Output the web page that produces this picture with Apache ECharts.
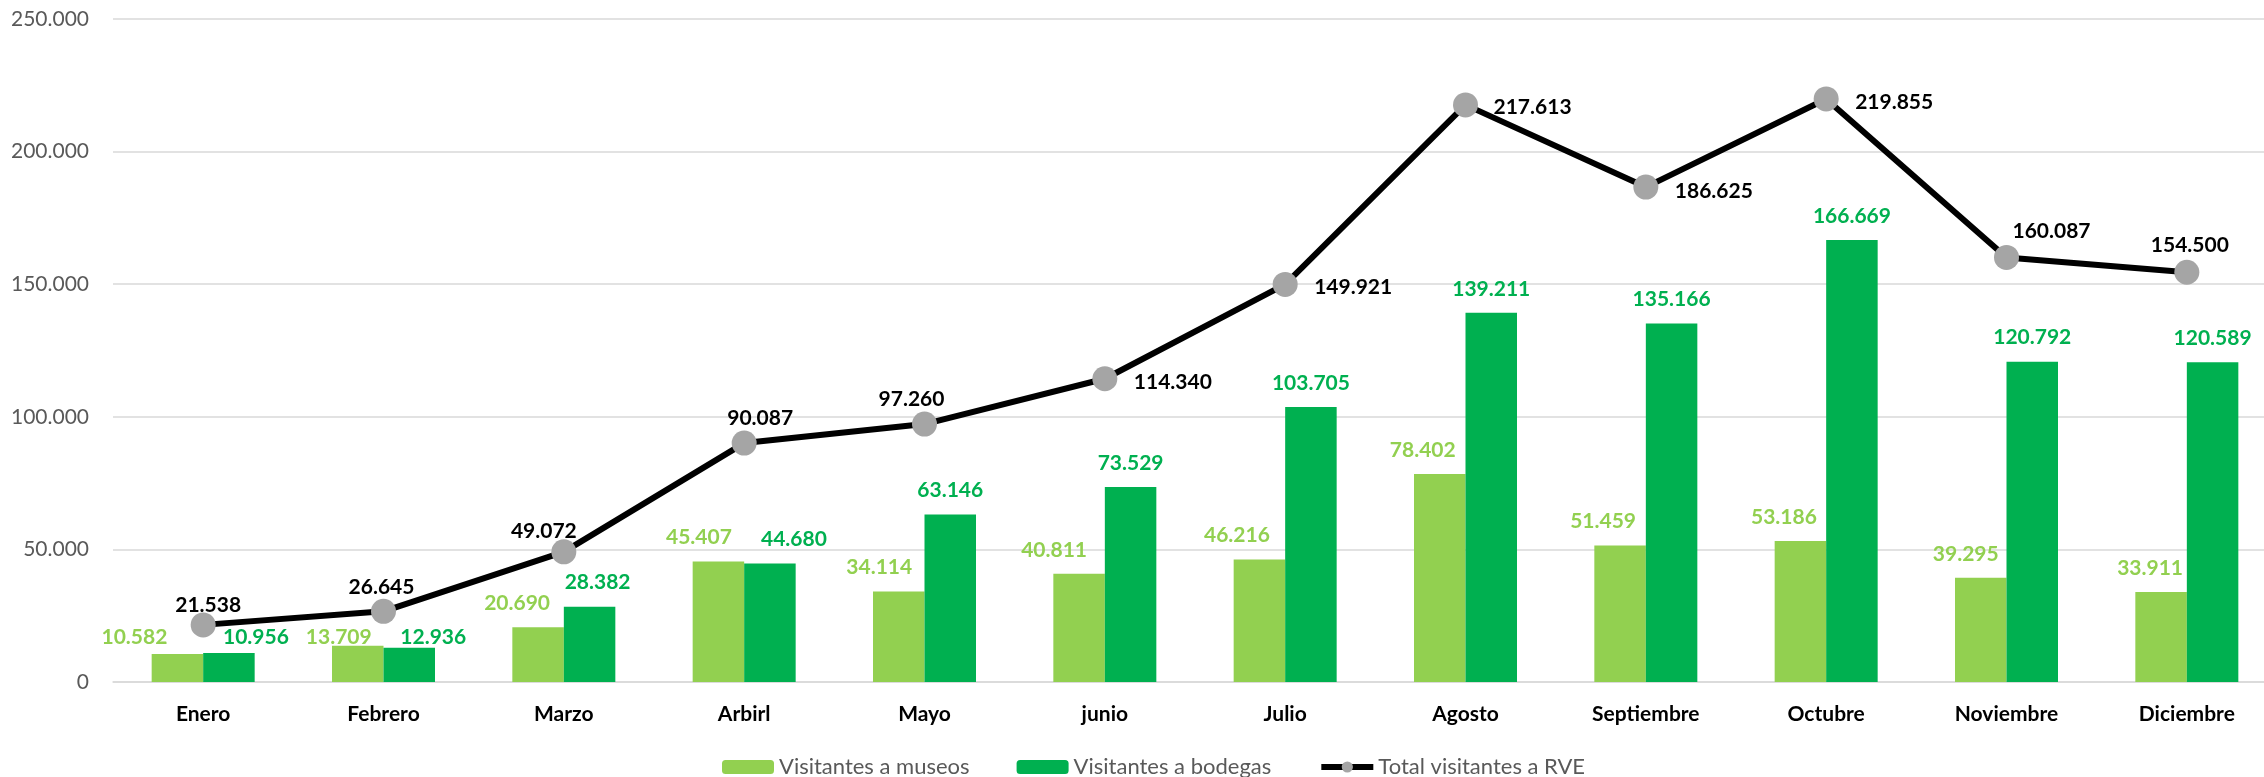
<!DOCTYPE html>
<html>
<head>
<meta charset="utf-8">
<script src="https://cdn.jsdelivr.net/npm/echarts@6/dist/echarts.min.js"></script>
<style>
html,body{margin:0;padding:0;background:#fff;}
#chart{width:2264px;height:777px;}
</style>
</head>
<body>
<div id="chart"></div>
<script>
const categories = ['Enero','Febrero','Marzo','Arbirl','Mayo','junio','Julio','Agosto','Septiembre','Octubre','Noviembre','Diciembre'];
const museos = [10582,13709,20690,45407,34114,40811,46216,78402,51459,53186,39295,33911];
const bodegas = [10956,12936,28382,44680,63146,73529,103705,139211,135166,166669,120792,120589];
const total = [21538,26645,49072,90087,97260,114340,149921,217613,186625,219855,160087,154500];
const yTicks = [0,50000,100000,150000,200000,250000];

// label layout (styling only)
const museosLabelOffset = [[-43,7.5],[-19,16],[-21,0],[-19.5,0],[-19.5,0],[-25,0],[-22.5,0],[-17,0],[-17,0],[-16.5,0],[-15,0],[-11,0]];
const bodegasLabelOffset = [[27,8.5],[24,13.5],[8,0],[24,0],[0,0],[0,0],[0,0],[0,0],[0,0],[0,0],[0,0],[0,0]];
const totalLabelLayout = [['center',[5,-20]],['center',[-2,-24]],['center',[-20,-21]],['center',[16,-25]],['center',[-13,-25]],
  ['left',[29,3]],['left',[29,3]],['left',[28,2]],['left',[29,4]],['left',[29,3]],['center',[45,-26]],['center',[3,-27]]];

const FONT = 'Lato, "Open Sans", sans-serif';
const fmt = v => String(Math.round(v)).replace(/\B(?=(\d{3})+(?!\d))/g, '.');

const chart = echarts.init(document.getElementById('chart'), null, {renderer:'canvas'});
chart.setOption({
  animation: false,
  backgroundColor: '#ffffff',
  textStyle: {fontFamily: FONT},
  grid: {left: 113, top: 19, width: 2164, height: 663, containLabel: false, outerBoundsMode: 'none'},
  legend: {
    left: 722, top: 756, padding: 0,
    itemWidth: 52, itemHeight: 14, itemGap: 47,
    textStyle: {fontFamily: FONT, fontSize: 22, color: '#595959', lineHeight: 22},
    data: [
      {name: 'Visitantes a museos'},
      {name: 'Visitantes a bodegas'},
      {name: 'Total visitantes a RVE', lineStyle: {width: 6, color: '#000000'}, itemStyle: {color: '#A5A5A5'}}
    ]
  },
  xAxis: {
    type: 'category',
    data: categories,
    boundaryGap: true,
    axisLine: {show: true, lineStyle: {color: '#D9D9D9', width: 1.5}},
    axisTick: {show: false},
    axisLabel: {fontFamily: FONT, fontSize: 21, fontWeight: 'bold', color: '#000000', margin: 21, lineHeight: 22, interval: 0}
  },
  yAxis: {
    type: 'value',
    min: yTicks[0], max: yTicks[yTicks.length-1], interval: yTicks[1]-yTicks[0],
    axisLine: {show: false},
    axisTick: {show: false},
    splitLine: {lineStyle: {color: '#D9D9D9', width: 1.5}},
    axisLabel: {fontFamily: FONT, fontSize: 21, color: '#595959', margin: 24, formatter: fmt}
  },
  series: [
    {
      name: 'Visitantes a museos', type: 'bar', barWidth: 51.5, barGap: '0%',
      itemStyle: {color: '#92D050'},
      data: museos.map((v,i) => ({value: v, label: {offset: museosLabelOffset[i]}})),
      label: {show: true, position: 'top', distance: 13, lineHeight: 22, fontFamily: FONT, fontSize: 21, fontWeight: 'bold', color: '#92D050', formatter: p => fmt(p.value)}
    },
    {
      name: 'Visitantes a bodegas', type: 'bar', barWidth: 51.5, barGap: '0%',
      itemStyle: {color: '#00B050'},
      data: bodegas.map((v,i) => ({value: v, label: {offset: bodegasLabelOffset[i]}})),
      label: {show: true, position: 'top', distance: 13, lineHeight: 22, fontFamily: FONT, fontSize: 21, fontWeight: 'bold', color: '#00B050', formatter: p => fmt(p.value)}
    },
    {
      name: 'Total visitantes a RVE', type: 'line', z: 5,
      symbol: 'circle', symbolSize: 25,
      lineStyle: {color: '#000000', width: 6},
      itemStyle: {color: '#A5A5A5', borderWidth: 0},
      data: total.map((v,i) => ({value: v, label: {align: totalLabelLayout[i][0], offset: totalLabelLayout[i][1]}})),
      label: {show: true, position: 'inside', verticalAlign: 'middle', lineHeight: 22, fontFamily: FONT, fontSize: 21, fontWeight: 'bold', color: '#000000', formatter: p => fmt(p.value)}
    }
  ]
});
</script>
</body>
</html>
